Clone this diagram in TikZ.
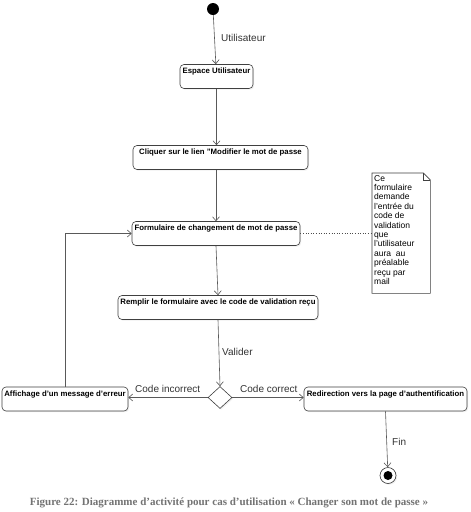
\documentclass[tikz,border=0pt]{standalone}
\usepackage{fontspec}
\setmainfont{Liberation Serif}
\setsansfont{Liberation Sans}
\usetikzlibrary{arrows.meta,shapes.geometric,shadows}
\begin{document}
\begin{tikzpicture}[x=1pt,y=-1pt,
  flow/.style={draw=black!65, line width=0.6pt, -{Straight Barb[length=4pt,width=7pt]}},
  act/.style={draw=black!75, line width=0.6pt, rounded corners=4pt, fill=white,
    minimum height=24pt, inner xsep=1pt, inner ysep=0pt, text height=6pt, text depth=12pt,
    font=\sffamily\bfseries\fontsize{7.8}{9}\selectfont,
    drop shadow={opacity=0.12, shadow xshift=1.2pt, shadow yshift=-1.2pt}},
  lbl/.style={font=\sffamily\fontsize{10}{12}\selectfont, text=black!80, inner sep=0pt},
]
\useasboundingbox (0,0) rectangle (471,512);
\fill[white] (0,0) rectangle (471,512);

\node[circle, fill=black, minimum size=12pt, inner sep=0pt] (start) at (213,9) {};
\node[act, minimum width=73pt] (esp) at (216.5,76.5) {Espace Utilisateur};
\node[act, minimum width=175pt] (cliq) at (220.5,157.5) {Cliquer sur le lien "Modifier le mot de passe};
\node[act, minimum width=168pt] (form) at (216,233.5) {Formulaire de changement de mot de passe};
\node[act, minimum width=200pt] (rempl) at (218,307.5) {Remplir le formulaire avec le code de validation reçu};
\node[diamond, draw=black!75, fill=white, minimum width=24pt, minimum height=22pt, inner sep=0pt, line width=0.6pt,
  drop shadow={opacity=0.12, shadow xshift=1.2pt, shadow yshift=-1.2pt}] (dec) at (220,397.5) {};
\node[act, minimum width=126pt] (aff) at (65,399) {Affichage d'un message d'erreur};
\node[act, minimum width=163pt] (redir) at (385.5,399) {Redirection vers la page d'authentification};
\node[circle, draw=black!80, fill=white, minimum size=16pt, inner sep=0pt, line width=0.6pt,
  drop shadow={opacity=0.12, shadow xshift=1.2pt, shadow yshift=-1.2pt}] (fin) at (388,475.5) {};
\node[circle, fill=black, minimum size=9pt, inner sep=0pt] (finin) at (fin) {};

% note
\node[fill=white, minimum width=58pt, minimum height=120pt, anchor=north west, inner sep=0pt] (note) at (372,173) {};
\draw[black!75, line width=0.6pt] (note.north west) -- ([xshift=-7pt]note.north east) -- ([yshift=-7pt]note.north east)
  -- (note.south east) -- (note.south west) -- cycle;
\draw[black!75, line width=0.5pt] ([xshift=-7pt]note.north east) -- ([xshift=-7pt,yshift=-7pt]note.north east) -- ([yshift=-7pt]note.north east);
\node[anchor=north west, align=left, inner sep=0pt, font=\sffamily\fontsize{8.5}{9.4}\selectfont] (notetxt) at (374,175)
  {Ce\\formulaire\\demande\\l'entrée du\\code de\\validation\\que\\l'utilisateur\\aura~ au\\préalable\\reçu par\\mail};

% connectors
\draw[flow] (start) -- (esp);
\draw[flow] (esp.south) -- (esp.south |- cliq.north);
\draw[flow] (form.north |- cliq.south) -- (form.north);
\draw[flow] (form.south) -- (rempl.north);
\draw[flow] (rempl.south) -- (dec.north);
\draw[flow] (dec.west) -- (dec.west -| aff.east);
\draw[flow] (dec.east) -- (dec.east -| redir.west);
\draw[flow] (aff.north) |- (form.west);
\draw[flow] (redir.south) -- (fin);
\draw[black!70, line width=0.6pt, dotted] (form.east) -- (note.west |- form.east);

% labels
\node[lbl, anchor=west] (lu) at (221,38) {Utilisateur};
\node[lbl, anchor=west] (lv) at (222,352) {Valider};
\node[lbl, anchor=west] (lci) at (135,389) {Code incorrect};
\node[lbl, anchor=west] (lcc) at (240,389) {Code correct};
\node[lbl, anchor=west] (lf) at (392,442) {Fin};

\node[font=\rmfamily\bfseries\fontsize{11}{13}\selectfont, text=black!55, inner sep=0pt] (cap) at (229,503)
  {Figure 22: Diagramme d’activité pour cas d’utilisation « Changer son mot de passe »};
\end{tikzpicture}
\end{document}
